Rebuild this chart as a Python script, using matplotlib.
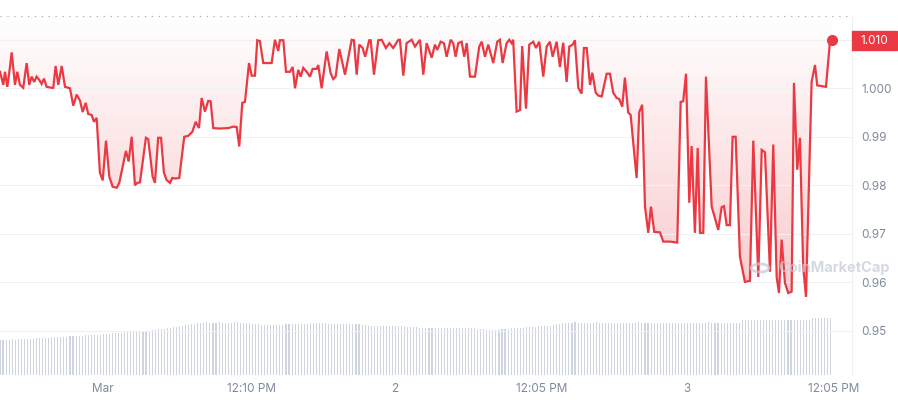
import matplotlib
matplotlib.use("Agg")
import matplotlib.pyplot as plt
import numpy as np
from matplotlib.patches import Rectangle, Circle

plt.rcParams['font.family'] = ['Inter', 'DejaVu Sans']

# hours since Mar 1 00:00
times = [
    -8.46, -8.19, -8.05, -7.86, -7.70, -7.50, -7.23, -7.04, -6.82, -6.55,
    -6.27, -6.06, -5.86, -5.65, -5.45, -5.23, -5.04, -4.85, -4.63, -4.22,
    -4.08, -3.89, -3.67, -3.39, -3.12, -2.71, -2.44, -2.16, -1.89, -1.67,
    -1.42, -1.21, -0.93, -0.74, -0.52, -0.25, -0.02, 0.25, 0.52, 0.80,
    1.13, 1.34, 1.89, 2.11, 2.36, 2.63, 2.82, 3.04,
    3.53, 3.72, 4.08, 4.27, 4.54, 4.77, 5.01, 5.23, 5.51, 5.69,
    5.97, 6.27, 6.68, 7.01, 7.34, 7.62, 7.89, 8.11, 8.38, 8.65,
    8.85, 9.06, 9.61, 10.30, 10.71, 10.99, 11.20, 11.45, 11.67, 12.00,
    12.22, 12.49, 12.68, 12.90, 13.17, 13.86, 14.13, 14.40,
    14.54, 14.82, 15.04, 15.37, 15.59, 15.78, 16.05, 16.25, 16.46, 16.74,
    17.01, 17.23, 17.56, 17.69, 17.97, 18.38, 18.71, 18.92, 19.12, 19.42,
    19.89, 20.44, 20.62, 20.85, 21.06, 21.34, 21.55, 21.88, 22.00, 22.27,
    22.62, 22.90, 23.25, 23.53, 23.85, 24.27, 24.40, 24.68, 24.95, 25.37,
    25.64, 26.05,
    26.32, 26.60, 27.01, 27.28, 27.47, 27.75, 28.02, 28.24, 28.57, 28.78,
    28.98, 29.19, 29.47, 29.69, 29.89, 30.16, 30.57, 30.92, 31.12, 31.39,
    31.66, 32.07, 32.40, 32.62, 32.84, 33.17, 33.39, 33.58, 33.71, 33.99,
    34.27, 34.45, 34.76, 35.03, 35.36, 35.58, 35.85, 36.18, 36.46, 36.73,
    36.95, 37.28, 37.55,
    37.82, 38.10, 38.32, 38.60, 38.78, 39.06, 39.33, 39.52, 39.75, 40.02,
    40.21, 40.49, 40.70, 40.98, 41.39, 41.66, 41.93, 42.21, 42.42, 42.67,
    42.89, 43.16, 43.36, 43.85, 44.07, 44.31, 44.54, 44.81, 45.03, 45.30,
    45.77, 46.04, 46.59, 47.19, 47.47, 47.68, 47.91, 48.18, 48.37, 48.64,
    48.87,
    49.06, 49.33, 49.55, 50.02, 50.56, 50.84, 51.03, 51.25, 51.52, 51.74,
    51.99, 52.34, 52.75, 53.16, 53.44, 53.85, 54.13, 54.40, 54.81, 55.08,
    55.36, 55.55, 55.77, 56.04, 56.31, 56.59, 56.78, 57.05, 57.27, 57.54,
    57.77, 58.23, 58.51, 58.69, 59.41, 59.74, 59.90,
]

prices = [
    1.0034, 1.0007, 1.0034, 1.0003, 1.0032, 1.0074, 1.0007, 1.0034, 1.0007, 1.0001,
    1.0052, 1.0007, 1.0024, 1.0013, 1.0024, 1.0017, 1.0009, 1.0020, 1.0003, 1.0001,
    1.0001, 1.0046, 1.0007, 1.0046, 1.0003, 1.0000, 0.9964, 0.9987, 0.9975, 0.9951,
    0.9970, 0.9947, 0.9945, 0.9931, 0.9939, 0.9826, 0.9810, 0.9892, 0.9818, 0.9797,
    0.9795, 0.9805, 0.9871, 0.9849, 0.9900, 0.9800, 0.9805, 0.9806,
    0.9898, 0.9895, 0.9818, 0.9805, 0.9898, 0.9898, 0.9826, 0.9811, 0.9805, 0.9815,
    0.9814, 0.9815, 0.9900, 0.9902, 0.9910, 0.9931, 0.9918, 0.9980, 0.9952, 0.9974,
    0.9973, 0.9918, 0.9917, 0.9918, 0.9921, 0.9920, 0.9880, 0.9970, 0.9972, 1.0052,
    1.0026, 1.0026, 1.0099, 1.0097, 1.0052, 1.0052, 1.0100, 1.0077,
    1.0099, 1.0099, 1.0034, 1.0034, 1.0044, 1.0000, 1.0038, 1.0024, 1.0042, 1.0034,
    1.0024, 1.0040, 1.0040, 1.0048, 1.0000, 1.0076, 1.0031, 1.0019, 1.0024, 1.0081,
    1.0028, 1.0100, 1.0099, 1.0028, 1.0090, 1.0083, 1.0065, 1.0099, 1.0099, 1.0028,
    1.0099, 1.0100, 1.0083, 1.0093, 1.0083, 1.0100, 1.0100, 1.0026, 1.0093, 1.0100,
    1.0086, 1.0100,
    1.0028, 1.0093, 1.0063, 1.0090, 1.0079, 1.0096, 1.0093, 1.0065, 1.0100, 1.0093,
    1.0065, 1.0093, 1.0096, 1.0065, 1.0093, 1.0024, 1.0024, 1.0086, 1.0096, 1.0065,
    1.0090, 1.0052, 1.0096, 1.0100, 1.0052, 1.0093, 1.0100, 1.0093, 1.0100, 0.9952,
    0.9955, 1.0087, 0.9958, 1.0090, 1.0096, 1.0083, 1.0096, 1.0024, 1.0086, 1.0096,
    1.0065, 1.0096, 1.0044,
    1.0094, 1.0013, 1.0086, 1.0090, 1.0099, 1.0001, 0.9989, 1.0083, 1.0083, 1.0007,
    1.0032, 0.9991, 0.9985, 0.9983, 1.0030, 1.0030, 0.9991, 0.9980, 0.9978, 0.9962,
    1.0022, 0.9950, 0.9945, 0.9815, 0.9951, 0.9966, 0.9756, 0.9702, 0.9756, 0.9704,
    0.9703, 0.9684, 0.9684, 0.9682, 0.9972, 0.9973, 1.0030, 0.9764, 0.9881, 0.9702,
    0.9877,
    0.9702, 0.9702, 1.0024, 0.9756, 0.9708, 0.9755, 0.9757, 0.9718, 0.9718, 0.9900,
    0.9900, 0.9653, 0.9601, 0.9603, 0.9892, 0.9611, 0.9873, 0.9868, 0.9622, 0.9884,
    0.9611, 0.9578, 0.9688, 0.9599, 0.9578, 0.9581, 1.0011, 0.9832, 0.9898, 0.9632,
    0.9570, 1.0013, 1.0048, 1.0006, 1.0003, 1.0096, 1.0100,
]

# volume per 15 min bar (relative units)
volumes = [
    35, 35, 35, 35, 36, 35, 36, 36, 36, 36, 36,
    36, 37, 37, 37, 37, 37, 38, 38, 38, 38, 38, 38, 39, 39, 39, 39, 39, 40, 40, 40, 40, 40, 40,
    41, 41, 41, 42, 42, 42, 42, 43, 43, 43, 43, 44, 44, 44, 44, 44,
    45, 45, 46, 46, 46, 47, 47, 48, 48, 49, 49, 50, 50, 51, 51, 52,
    52, 52, 53, 52, 52, 52, 53, 52, 52, 52, 52, 53, 53, 52, 52, 52, 52,
    51, 51, 51, 50, 50, 50, 50, 50, 50, 50, 50, 51, 51, 51, 51, 51,
    51, 51, 51, 52, 52, 52, 52, 52, 52, 51, 51, 51, 51, 51, 51, 51, 51, 51, 51, 51, 50, 50,
    49, 49, 49, 49, 49, 49, 49, 49, 49, 49, 49, 49, 49, 48, 48, 48, 48,
    47, 47, 47, 47, 47, 47, 47, 47, 47, 47, 47, 47, 47, 47, 47, 47, 47, 47, 47, 46, 46, 46,
    45, 45, 45, 45, 45, 46, 46, 46, 47, 47, 47, 47,
    47, 48, 48, 48, 48, 49, 49, 49, 49, 49, 50, 51, 51, 52,
    52, 52, 52, 53, 52, 52, 52, 52, 52, 52, 53, 52, 52, 52, 52, 52, 52, 52, 52, 52,
    52, 52, 52, 52, 53, 52, 52, 52, 52, 52, 52, 52, 52, 52, 52, 52, 52, 52, 52, 52,
    52, 52, 52, 52, 52, 52, 52, 53, 52, 52, 52, 52, 52, 52, 52, 52, 52, 52,
    55, 55, 55, 55, 55, 55, 55, 55, 55, 55, 55, 55, 55, 55, 55, 55, 55, 55, 55, 55, 55, 55, 55,
    57, 57, 57, 57, 57, 57, 57,
]
vol_start = -8.46  # first bar, hours since Mar 1
vol_step = 0.25    # 15 minutes

tick_pos = [0, 12.17, 24, 36.08, 48, 60.08]
tick_labels = ["Mar", "12:10 PM", "2", "12:05 PM", "3", "12:05 PM"]
y_ticks = [0.95, 0.96, 0.97, 0.98, 0.99, 1.00, 1.01]
y_labels = ["0.95", "0.96", "0.97", "0.98", "0.99", "1.000", ""]

RED = '#ea3943'
GREY = '#808a9d'

W, H = 898, 400
fig = plt.figure(figsize=(W / 100, H / 100), dpi=100)
rect = [0, 25 / H, 852 / W, (375 - 16) / H]
xlim = (-8.46, 61.55)
ylim = (0.9409, 1.0149)

# volume bars underneath
axv = fig.add_axes(rect)
vol_t = vol_start + vol_step * np.arange(len(volumes))
axv.bar(vol_t, volumes, width=0.09, color='#cfd5de', linewidth=0)
axv.set_xlim(*xlim)
axv.set_ylim(0, 359)
axv.axis('off')
axv.set_zorder(0)

ax = fig.add_axes(rect)
ax.set_zorder(1)
ax.patch.set_alpha(0)
ax.set_xlim(*xlim)
ax.set_ylim(*ylim)

# gradient fill between the line and the top
fill = ax.fill_between(times, prices, ylim[1], color='none', lw=0)
yy = np.linspace(ylim[0], ylim[1], 300)
alpha = np.clip((1.016 - yy) / (1.016 - 0.957), 0, 1) * 0.27
img = np.zeros((300, 2, 4))
img[:, :, 0] = 234 / 255
img[:, :, 1] = 57 / 255
img[:, :, 2] = 67 / 255
img[:, :, 3] = alpha[:, None]
im = ax.imshow(img, extent=[xlim[0], xlim[1], ylim[0], ylim[1]], origin='lower',
               aspect='auto', zorder=1, interpolation='bilinear')
im.set_clip_path(fill.get_paths()[0], transform=ax.transData)

ax.plot(times, prices, color=RED, lw=1.6, zorder=3, solid_joinstyle='miter')
ax.plot(times[-1], prices[-1], 'o', ms=7, color=RED, zorder=4, clip_on=False)

ax.set_yticks(y_ticks)
ax.set_yticklabels(y_labels)
ax.yaxis.tick_right()
ax.grid(axis='y', color='#eff2f5', lw=0.8)
ax.axhline(ylim[1], color='#a6adba', lw=0.9, ls=(0, (1, 4.5)), clip_on=False)
ax.set_xticks(tick_pos)
ax.set_xticklabels(tick_labels)
ax.tick_params(axis='both', length=0, labelsize=8.5, labelcolor=GREY)
ax.tick_params(axis='y', pad=7)
ax.tick_params(axis='x', pad=6)
for s in ['top', 'left', 'bottom']:
    ax.spines[s].set_visible(False)
ax.spines['right'].set_color('#eff2f5')

# current price tag
fig.patches.append(Rectangle((852 / W, 1 - 50 / H), 45 / W, 19 / H,
                             transform=fig.transFigure, color=RED, zorder=5))
fig.text(874 / W, 1 - 40.5 / H, f"{prices[-1]:.3f}", color='white', fontsize=8.5,
         ha='center', va='center', zorder=6)

# watermark
fig.patches.append(Circle((760 / W, 1 - 268 / H), 9 / W, transform=fig.transFigure,
                          fill=False, ec='#c3cad5', lw=2, alpha=0.7, zorder=6))
fig.text(778 / W, 1 - 268 / H, "CoinMarketCap", color='#c3cad5', fontsize=10.5,
         fontweight='bold', ha='left', va='center', alpha=0.7, zorder=6)

fig.savefig('out.png', dpi=100)
